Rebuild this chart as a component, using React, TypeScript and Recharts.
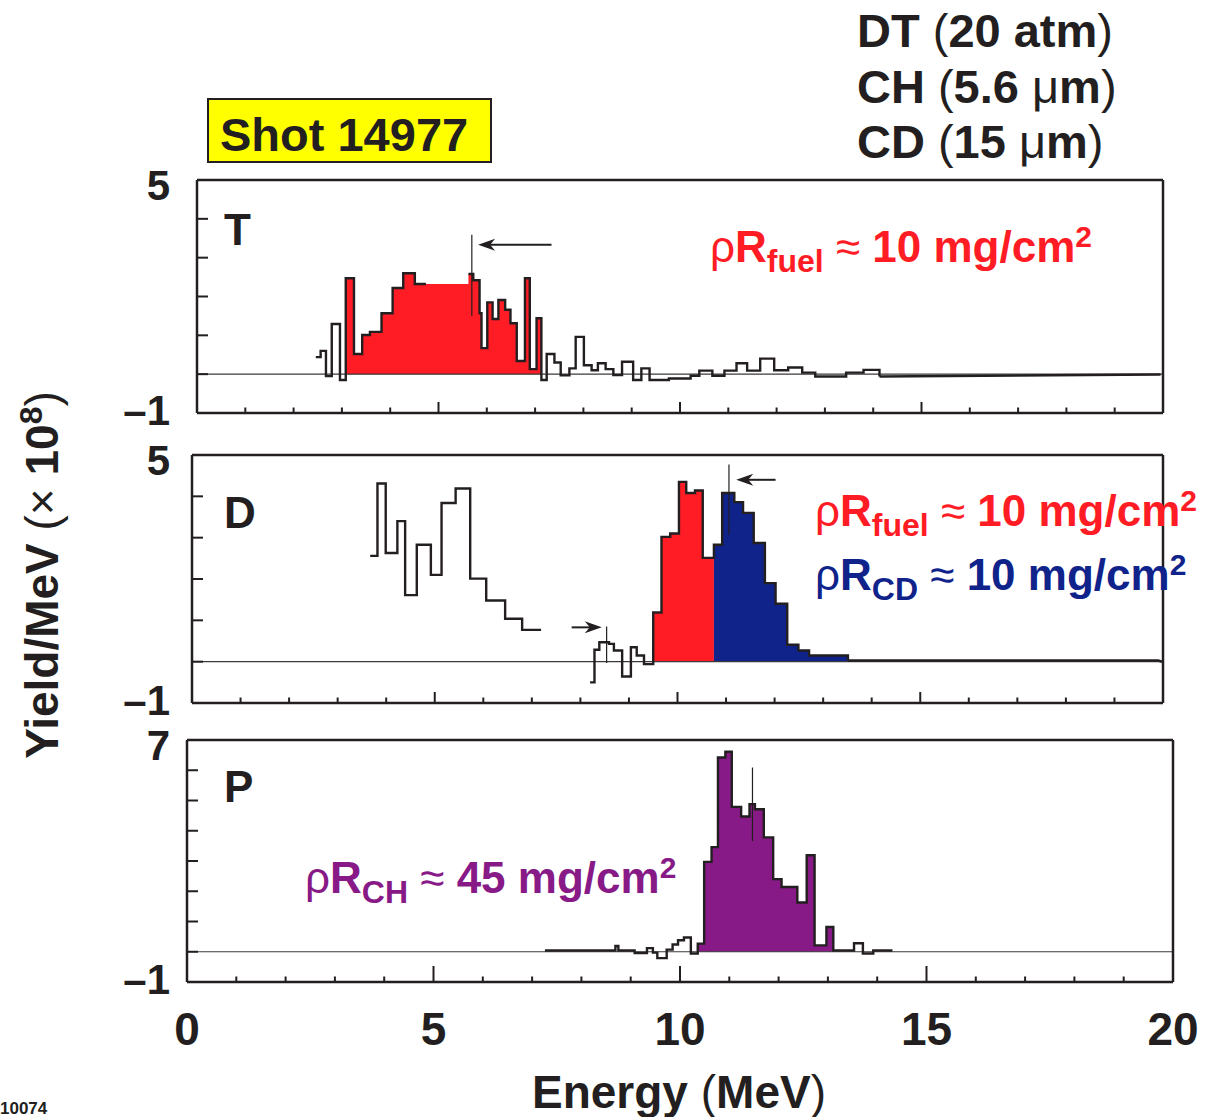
import React from 'react';
import { Area, ComposedChart, Line, ReferenceLine, XAxis, YAxis } from 'recharts';

type Pt = [number, number];

const INK = '#231f20';
const FUEL_RED = '#ff1c24';
const CD_BLUE = '#10238b';
const CH_PURPLE = '#871a86';
const FONT = '"Liberation Sans", Arial, Helvetica, sans-serif';

const X_TICKS = [0, 1, 2, 3, 4, 5, 6, 7, 8, 9, 10, 11, 12, 13, 14, 15, 16, 17, 18, 19, 20];
const X_LABELS = [0, 5, 10, 15, 20];
const TD_Y_TICKS = [-1, 0, 1, 2, 3, 4, 5];
const P_Y_TICKS = [-1, 0, 1, 2, 3, 4, 5, 6, 7];

// T panel: tritons (energy MeV, yield ×1e8 per MeV), step bins
const T_OUTLINE_LOW: Pt[] = [
  [2.46, 0.44], [2.56, 0.6], [2.67, -0.05], [2.79, 1.29], [2.96, -0.15], [3.08, 2.47],
  [3.25, 0.52], [3.42, 1.01], [3.58, 1.09], [3.82, 1.57], [4.05, 2.22], [4.27, 2.6],
  [4.51, 2.32], [4.74, 2.32],
];
const T_OUTLINE_HIGH: Pt[] = [
  [5.62, 2.58], [5.72, 2.42], [5.85, 1.57], [5.89, 0.67], [6.01, 1.85], [6.12, 1.42],
  [6.24, 1.91], [6.38, 1.66], [6.49, 1.31], [6.62, 0.34], [6.79, 2.47], [6.89, 0.13],
  [7.03, 1.44], [7.13, -0.15], [7.24, 0.52], [7.4, 0.3], [7.53, -0.03], [7.71, 0.15],
  [7.84, 0.96], [8.01, 0.23], [8.17, 0.1], [8.3, 0.28], [8.46, 0.13], [8.62, -0.02],
  [8.8, 0.32], [9.03, -0.15], [9.2, 0.15], [9.37, -0.15], [9.77, -0.11], [10.22, -0.04],
  [10.4, 0.09], [10.67, -0.04], [10.92, 0.09], [11.17, 0.28], [11.39, 0.09], [11.66, 0.4],
  [11.95, 0.1], [12.24, 0.17], [12.53, 0.04], [12.8, -0.06], [13.44, 0.04], [13.8, 0.11],
  [14.13, -0.06],
];
const T_TAIL: Pt[] = [[14.13, -0.06], [19.95, -0.01]];
const T_FUEL_RANGE = [3.08, 7.13];

// D panel: deuterons
const D_OUTLINE_LOW: Pt[] = [
  [3.67, 2.56], [3.82, 4.31], [3.99, 2.63], [4.23, 3.4], [4.39, 1.61], [4.63, 2.83],
  [4.92, 2.1], [5.14, 3.84], [5.43, 4.19], [5.73, 2.01], [6.06, 1.48], [6.45, 1.04],
  [6.8, 0.77], [7.19, 0.77],
];
const D_OUTLINE_HIGH: Pt[] = [
  [8.2, -0.5], [8.29, 0.29], [8.39, 0.47], [8.59, 0.43], [8.69, 0.27], [8.86, -0.36],
  [9.04, 0.35], [9.16, 0.15], [9.31, -0.06], [9.5, 1.19], [9.67, 3.02], [9.85, 3.1],
  [10.03, 4.35], [10.18, 4.08], [10.36, 4.14], [10.52, 2.51], [10.75, 2.83], [10.92, 4.08],
  [11.17, 3.86], [11.35, 3.6], [11.57, 2.87], [11.8, 1.9], [12.02, 1.4], [12.26, 0.41],
  [12.49, 0.27], [12.71, 0.15], [13.51, 0.03],
];
const D_TAIL: Pt[] = [[13.51, 0.03], [19.9, 0.03], [19.98, 0.0]];
const D_FUEL_RANGE = [9.5, 10.75];
const D_CD_RANGE = [10.75, 13.51];

// P panel: protons
const P_OUTLINE: Pt[] = [
  [7.26, 0.04], [8.69, 0.19], [8.75, 0.04], [9.08, -0.04], [9.33, 0.12], [9.45, -0.03],
  [9.54, -0.21], [9.73, 0.07], [9.85, 0.24], [9.96, 0.38], [10.08, 0.47], [10.22, -0.06],
  [10.36, 0.27], [10.49, 2.97], [10.64, 3.46], [10.77, 6.42], [10.92, 6.61], [11.05, 4.79],
  [11.24, 4.47], [11.41, 4.88], [11.52, 4.71], [11.7, 3.78], [11.89, 2.4], [12.06, 2.14],
  [12.38, 1.63], [12.57, 3.19], [12.73, 0.21], [12.97, 0.82], [13.11, 0.04], [13.53, 0.28],
  [13.71, -0.06], [13.92, 0.04], [14.31, 0.04],
];
const P_CH_RANGE = [10.36, 13.11];

// marker ticks [energy, low, high] and arrows [fromE, toE, level]
const T_MARKERS = [[5.69, 1.5, 3.59]];
const T_ARROWS = [[7.34, 5.82, 3.33]];
const D_MARKERS = [[11.06, 3.07, 4.77], [8.54, -0.03, 0.85]];
const D_ARROWS = [[12.02, 11.21, 4.4], [7.82, 8.44, 0.83]];
const P_MARKERS = [[11.47, 3.66, 6.09]];

const rows = (pts: Pt[]) => pts.map(([e, y]) => ({ e, y }));
const fillRows = (pts: Pt[], [a, b]: number[]) =>
  pts.filter(([e]) => e >= a - 1e-6 && e <= b + 1e-6).map(([e, y]) => ({ e, y: Math.max(y, 0) }));

const ArrowShape = (props: any) => {
  const { x1, y1, x2, y2 } = props;
  const dir = x2 > x1 ? 1 : -1;
  const tip = x2;
  return (
    <g>
      <line x1={x1} y1={y1} x2={tip - dir * 8} y2={y2} stroke={INK} strokeWidth={2} />
      <polygon
        points={`${tip},${y2} ${tip - dir * 17},${y2 - 6} ${tip - dir * 12},${y2} ${tip - dir * 17},${y2 + 6}`}
        fill={INK}
      />
    </g>
  );
};

const makeXTick = (side: 'top' | 'bottom', majorLen: number, labels: boolean) => (props: any) => {
  const { x, y, payload } = props;
  const v = payload.value as number;
  const dir = side === 'top' ? 1 : -1;
  const len = v % 5 === 0 ? majorLen : 5.5;
  const edge = v === 0 || v === 20;
  return (
    <g>
      {!edge && <line x1={x} x2={x} y1={y} y2={y + dir * len} stroke={INK} strokeWidth={2} />}
      {labels && X_LABELS.includes(v) && (
        <text x={x} y={y + 63} textAnchor="middle" fontSize={46} fontWeight={700} fill={INK} fontFamily={FONT}>
          {v}
        </text>
      )}
    </g>
  );
};

const makeYTick = (side: 'left' | 'right', first: number, last: number) => (props: any) => {
  const { x, y, payload } = props;
  const v = payload.value as number;
  const inner = v !== first && v !== last;
  const dir = side === 'left' ? 1 : -1;
  // end labels sit on the box corners; nudge them apart a little
  const dy = v === first ? 12 : 20;
  return (
    <g>
      {inner && <line x1={x} x2={x + dir * (side === 'left' ? 11 : 9)} y1={y} y2={y} stroke={INK} strokeWidth={2} />}
      {side === 'left' && !inner && (
        <text x={170} y={y + dy} textAnchor="end" fontSize={42} fontWeight={700} fill={INK} fontFamily={FONT}>
          {v < 0 ? `\u2013${Math.abs(v)}` : v}
        </text>
      )}
    </g>
  );
};

interface PanelProps {
  chartTop: number;
  height: number;
  left: number;
  right: number;
  top: number;
  bottom: number;
  yTicks: number[];
  majorLen: number;
  showLabels: boolean;
  outlines: Pt[][];
  tail?: Pt[];
  fills: { pts: Pt[]; range: number[]; color: string }[];
  markers: number[][];
  arrows: number[][];
}

const AXIS_LINE = { stroke: INK, strokeWidth: 2.5 };

const Panel = (p: PanelProps) => {
  const first = p.yTicks[0];
  const last = p.yTicks[p.yTicks.length - 1];
  // axes take 1px each, margins are reduced so the plot box lands where it should
  const margin = {
    top: p.top - p.chartTop - 1,
    left: p.left - 1,
    right: 1209 - p.right - 1,
    bottom: p.height - (p.bottom - p.chartTop) - 1,
  };
  return (
    <div style={{ position: 'absolute', left: 0, top: p.chartTop }}>
      <ComposedChart width={1209} height={p.height} margin={margin}>
        <XAxis
          xAxisId={0}
          dataKey="e"
          type="number"
          domain={[0, 20]}
          ticks={X_TICKS}
          interval={0}
          height={1}
          tickSize={0}
          tickMargin={0}
          tickLine={false}
          axisLine={AXIS_LINE}
          tick={makeXTick('bottom', p.majorLen, p.showLabels)}
        />
        <XAxis
          xAxisId="top"
          orientation="top"
          dataKey="e"
          type="number"
          domain={[0, 20]}
          ticks={X_TICKS}
          interval={0}
          height={1}
          tickSize={0}
          tickMargin={0}
          tickLine={false}
          axisLine={AXIS_LINE}
          tick={makeXTick('top', p.majorLen, false)}
        />
        <YAxis
          yAxisId={0}
          type="number"
          domain={[first, last]}
          ticks={p.yTicks}
          interval={0}
          width={1}
          tickSize={0}
          tickMargin={0}
          tickLine={false}
          axisLine={AXIS_LINE}
          tick={makeYTick('left', first, last)}
        />
        <YAxis
          yAxisId="right"
          orientation="right"
          type="number"
          domain={[first, last]}
          ticks={p.yTicks}
          interval={0}
          width={1}
          tickSize={0}
          tickMargin={0}
          tickLine={false}
          axisLine={AXIS_LINE}
          tick={makeYTick('right', first, last)}
        />
        {p.fills.map((f, i) => (
          <Area
            key={`fill-${i}`}
            data={fillRows(f.pts, f.range)}
            dataKey="y"
            type="stepAfter"
            fill={f.color}
            fillOpacity={1}
            stroke="none"
            baseValue={0}
            isAnimationActive={false}
          />
        ))}
        <ReferenceLine y={0} stroke="#3a3a3a" strokeWidth={1.2} />
        {p.outlines.map((o, i) => (
          <Line
            key={`out-${i}`}
            data={rows(o)}
            dataKey="y"
            type="stepAfter"
            stroke={INK}
            strokeWidth={2.4}
            dot={false}
            isAnimationActive={false}
          />
        ))}
        {p.tail && (
          <Line data={rows(p.tail)} dataKey="y" type="linear" stroke={INK} strokeWidth={2.6} dot={false} isAnimationActive={false} />
        )}
        {p.markers.map(([e, lo, hi], i) => (
          <ReferenceLine
            key={`m-${i}`}
            segment={[{ x: e, y: lo }, { x: e, y: hi }]}
            stroke={INK}
            strokeWidth={1.2}
          />
        ))}
        {p.arrows.map(([from, to, lvl], i) => (
          <ReferenceLine
            key={`a-${i}`}
            segment={[{ x: from, y: lvl }, { x: to, y: lvl }]}
            shape={ArrowShape}
          />
        ))}
      </ComposedChart>
    </div>
  );
};

const txt = { fontFamily: FONT, fontWeight: 700 } as const;

const RhoLabel = ({ x, y, color, sub, value }: { x: number; y: number; color: string; sub: string; value: string }) => (
  <text x={x} y={y} fill={color} fontSize={44} {...txt}>
    <tspan fontWeight={400}>ρ</tspan>
    <tspan>R</tspan>
    <tspan fontSize={32} dy={10}>{sub}</tspan>
    <tspan dy={-10} fontWeight={400}>{' ≈ '}</tspan>
    <tspan>{`${value} mg/cm`}</tspan>
    <tspan fontSize={30} dy={-15}>2</tspan>
  </text>
);

export default function App() {
  return (
    <div style={{ position: 'relative', width: 1209, height: 1117, background: '#fff', overflow: 'hidden' }}>
      <style>{'body{margin:0}'}</style>
      <Panel
        chartTop={140}
        height={300}
        left={197}
        right={1163}
        top={180}
        bottom={413}
        yTicks={TD_Y_TICKS}
        majorLen={11}
        showLabels={false}
        outlines={[T_OUTLINE_LOW, T_OUTLINE_HIGH]}
        tail={T_TAIL}
        fills={[{ pts: [...T_OUTLINE_LOW, ...T_OUTLINE_HIGH], range: T_FUEL_RANGE, color: FUEL_RED }]}
        markers={T_MARKERS}
        arrows={T_ARROWS}
      />
      <Panel
        chartTop={428}
        height={302}
        left={192}
        right={1163}
        top={455}
        bottom={703}
        yTicks={TD_Y_TICKS}
        majorLen={11}
        showLabels={false}
        outlines={[D_OUTLINE_LOW, D_OUTLINE_HIGH]}
        tail={D_TAIL}
        fills={[
          { pts: D_OUTLINE_HIGH, range: D_FUEL_RANGE, color: FUEL_RED },
          { pts: D_OUTLINE_HIGH, range: D_CD_RANGE, color: CD_BLUE },
        ]}
        markers={D_MARKERS}
        arrows={D_ARROWS}
      />
      <Panel
        chartTop={712}
        height={350}
        left={187}
        right={1173}
        top={740}
        bottom={982}
        yTicks={P_Y_TICKS}
        majorLen={16}
        showLabels={true}
        outlines={[P_OUTLINE]}
        fills={[{ pts: P_OUTLINE, range: P_CH_RANGE, color: CH_PURPLE }]}
        markers={P_MARKERS}
        arrows={[]}
      />
      <svg width={1209} height={1117} style={{ position: 'absolute', left: 0, top: 0, pointerEvents: 'none' }}>
        <g fill={INK} fontSize={47} {...txt}>
          <text x={857} y={47}>DT <tspan fontWeight={400}>(</tspan>20 atm<tspan fontWeight={400}>)</tspan></text>
          <text x={857} y={103}>CH <tspan fontWeight={400}>(</tspan>5.6 <tspan fontWeight={400}>μ</tspan>m<tspan fontWeight={400}>)</tspan></text>
          <text x={857} y={158}>CD <tspan fontWeight={400}>(</tspan>15 <tspan fontWeight={400}>μ</tspan>m<tspan fontWeight={400}>)</tspan></text>
        </g>
        <rect x={208} y={99} width={283} height={63} fill="#ffff00" stroke={INK} strokeWidth={2} />
        <text x={220} y={151} fill={INK} fontSize={47} {...txt}>Shot 14977</text>
        <g fill={INK} fontSize={44} {...txt}>
          <text x={224} y={245}>T</text>
          <text x={224} y={528}>D</text>
          <text x={224} y={802}>P</text>
        </g>
        <RhoLabel x={710} y={262} color={FUEL_RED} sub="fuel" value="10" />
        <RhoLabel x={815} y={526} color={FUEL_RED} sub="fuel" value="10" />
        <RhoLabel x={815} y={590} color={CD_BLUE} sub="CD" value="10" />
        <RhoLabel x={305} y={893} color={CH_PURPLE} sub="CH" value="45" />
        <text transform="translate(58,575) rotate(-90)" textAnchor="middle" fill={INK} fontSize={46} {...txt}>
          Yield/MeV <tspan fontWeight={400}>(×</tspan> 10<tspan fontSize={32} dy={-16}>8</tspan>
          <tspan dy={16} fontWeight={400}>)</tspan>
        </text>
        <text x={679} y={1108} textAnchor="middle" fill={INK} fontSize={46} {...txt}>
          Energy <tspan fontWeight={400}>(</tspan>MeV<tspan fontWeight={400}>)</tspan>
        </text>
        <text x={0} y={1114} fill={INK} fontSize={17} {...txt}>10074</text>
      </svg>
    </div>
  );
}
